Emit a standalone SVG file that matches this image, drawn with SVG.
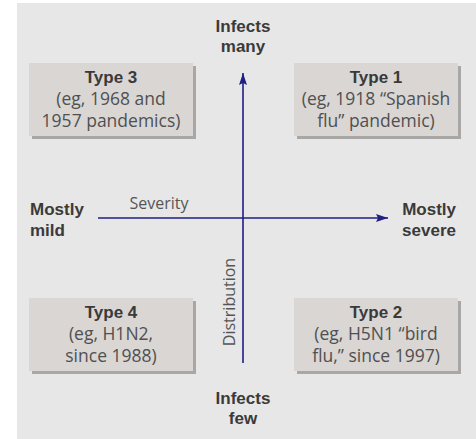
<svg xmlns="http://www.w3.org/2000/svg" width="476" height="439" viewBox="0 0 476 439">
<defs>
<style>
.bg{fill:#e7e7e7}
.box{fill:#d9d6d4}
.sh{fill:#a9a6a6}
.t{font-family:"Liberation Sans","Open Sans",sans-serif;fill:#3a3a3a;text-anchor:middle}
.b{font-weight:bold;font-size:17px}
.r{font-family:"Open Sans","Liberation Sans",sans-serif;font-size:17.5px;fill:#505050}
.ax{stroke:#1f1f85;stroke-width:1.6;fill:none}
.lab{font-family:"Open Sans","Liberation Sans",sans-serif;font-size:16px;fill:#555}
</style>
<marker id="ah" viewBox="0 0 12 8" refX="12" refY="4" markerWidth="12" markerHeight="8" markerUnits="userSpaceOnUse" orient="auto">
<path d="M0,0 L12,4 L0,8 L2,4 Z" fill="#1f1f85"/>
</marker>
</defs>
<rect class="bg" x="17" y="3" width="459" height="436"/>

<g id="connectors">
<line class="ax" x1="243" y1="363" x2="243" y2="73" marker-end="url(#ah)"/>
<line class="ax" x1="98" y1="218" x2="388" y2="218" marker-end="url(#ah)"/>
<text class="lab" x="159" y="209" text-anchor="middle">Severity</text>
<text class="lab" transform="translate(235,302) rotate(-90)" text-anchor="middle">Distribution</text>
</g>

<g id="type3">
<rect class="sh" x="32" y="66" width="164" height="73"/>
<rect class="box" x="29" y="63" width="164" height="73"/>
<text class="t b" x="111" y="83">Type 3</text>
<text class="t r" x="111" y="105">(eg, 1968 and</text>
<text class="t r" x="111" y="127">1957 pandemics)</text>
</g>

<g id="type1">
<rect class="sh" x="297" y="66" width="164" height="73"/>
<rect class="box" x="294" y="63" width="164" height="73"/>
<text class="t b" x="376" y="83">Type 1</text>
<text class="t r" x="376" y="105">(eg, 1918 “Spanish</text>
<text class="t r" x="376" y="127">flu” pandemic)</text>
</g>

<g id="type4">
<rect class="sh" x="32" y="301" width="164" height="73"/>
<rect class="box" x="29" y="298" width="164" height="73"/>
<text class="t b" x="111" y="318">Type 4</text>
<text class="t r" x="111" y="340">(eg, H1N2,</text>
<text class="t r" x="111" y="362">since 1988)</text>
</g>

<g id="type2">
<rect class="sh" x="297" y="301" width="164" height="73"/>
<rect class="box" x="294" y="298" width="164" height="73"/>
<text class="t b" x="376" y="318">Type 2</text>
<text class="t r" x="376" y="340">(eg, H5N1 “bird</text>
<text class="t r" x="376" y="362">flu,” since 1997)</text>
</g>

<g id="infects-many">
<text class="t b" x="243" y="32">Infects</text>
<text class="t b" x="243" y="52">many</text>
</g>

<g id="infects-few">
<text class="t b" x="243" y="404">Infects</text>
<text class="t b" x="243" y="424">few</text>
</g>

<g id="mostly-mild">
<text class="t b" x="30" y="215" style="text-anchor:start">Mostly</text>
<text class="t b" x="30" y="236" style="text-anchor:start">mild</text>
</g>

<g id="mostly-severe">
<text class="t b" x="456" y="215" style="text-anchor:end">Mostly</text>
<text class="t b" x="456" y="236" style="text-anchor:end">severe</text>
</g>
</svg>
